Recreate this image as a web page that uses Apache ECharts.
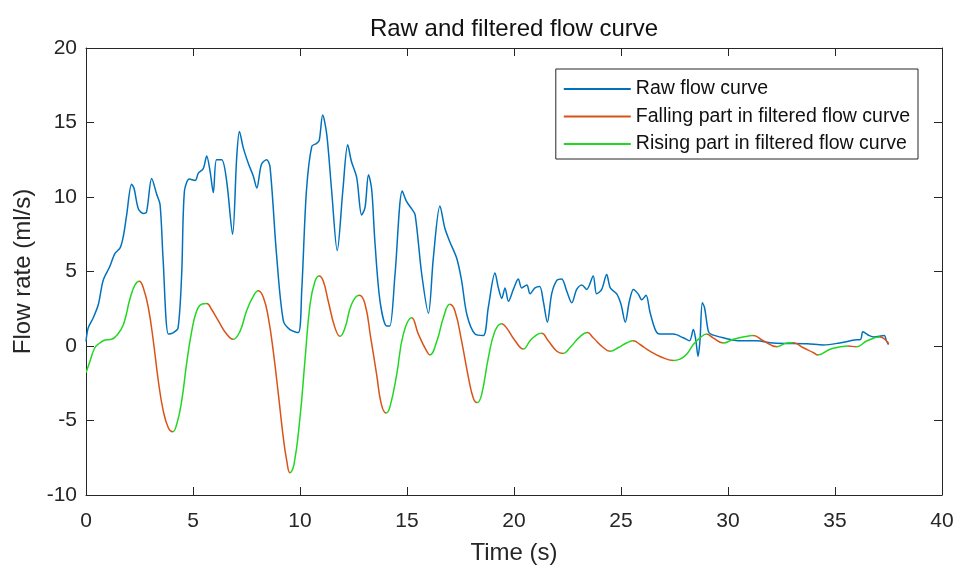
<!DOCTYPE html>
<html>
<head>
<meta charset="utf-8">
<script src="https://cdn.jsdelivr.net/npm/echarts@6/dist/echarts.min.js"></script>
<style>html,body{margin:0;padding:0;background:#fff}#chart{width:957px;height:565px}</style>
</head>
<body>
<div id="chart"></div>
<script>
// ---- Data ----
const titleText = 'Raw and filtered flow curve';
const xName = 'Time (s)';
const yName = 'Flow rate (ml/s)';
const seriesNames = ['Raw flow curve', 'Falling part in filtered flow curve', 'Rising part in filtered flow curve'];

const rawT = [0,0.1,0.34,0.58,0.8,1.1,1.35,1.6,1.75,1.9,2.13,2.24,2.45,2.68,2.83,3.07,3.3,3.46,3.6,3.85,4.08,4.3,4.47,4.6,4.83,5.1,5.25,5.48,5.64,5.8,5.95,6.1,6.34,6.57,6.85,7.04,7.17,7.35,7.6,7.82,7.98,8.2,8.44,8.6,8.9,9.22,9.53,9.92,10.08,10.3,10.55,10.78,10.9,11.06,11.25,11.48,11.74,12.0,12.23,12.4,12.65,12.88,13.04,13.2,13.35,13.5,13.74,14.05,14.2,14.44,14.78,14.98,15.22,15.38,15.69,16.0,16.23,16.54,16.77,17.0,17.32,17.55,17.8,18.18,18.57,18.8,19.11,19.27,19.43,19.58,19.74,19.97,20.2,20.36,20.6,20.75,20.98,21.2,21.37,21.56,21.76,22.0,22.23,22.46,22.7,22.93,23.17,23.4,23.7,23.86,24.1,24.33,24.5,24.8,25.0,25.2,25.39,25.58,25.8,25.97,26.17,26.35,26.6,26.8,27.45,27.91,28.2,28.38,28.5,28.6,28.69,28.8,28.9,29.08,29.2,29.78,30.56,31.33,32.1,33.7,34.46,35.2,35.9,36.2,36.3,36.6,36.8,37.3,37.4,37.5];
const rawV = [0.3,1.2,1.9,2.8,4.4,5.3,6.2,6.6,7.4,8.8,10.85,10.6,9.2,8.9,9.0,11.25,10.2,9.5,5.9,0.8,0.9,1.2,4.8,10.4,11.2,11.1,11.6,11.9,12.75,11.7,10.3,12.5,12.5,11.1,7.5,12.6,14.4,13.3,12.2,11.4,10.6,12.2,12.5,12.0,6.2,1.7,1.1,0.9,3.7,10.4,13.4,13.6,13.8,15.5,14.2,10.4,6.4,10.4,13.5,12.4,11.3,8.8,9.3,11.5,10.5,7.0,3.0,1.35,1.35,4.8,10.4,9.7,9.2,8.8,4.8,2.2,5.9,9.4,7.9,7.0,5.9,4.4,2.1,0.8,0.7,2.6,4.9,3.9,3.2,3.9,3.0,3.8,4.5,3.9,4.1,3.5,3.9,4.0,3.0,1.6,3.5,4.4,4.5,3.7,2.9,3.8,4.1,3.8,4.7,3.5,3.8,4.8,3.9,3.5,2.8,1.6,3.0,3.8,3.5,3.1,3.4,2.3,1.1,0.8,0.8,0.55,0.35,1.1,0.35,-0.7,0.35,2.9,2.6,1.0,0.8,0.55,0.35,0.35,0.2,0.15,0.07,0.2,0.4,0.45,0.95,0.7,0.6,0.7,0.35,0.1];

const filtT = [0,0.19,0.42,0.65,0.89,1.2,1.43,1.75,2.06,2.29,2.49,2.68,2.91,3.15,3.38,3.61,3.85,4.05,4.24,4.47,4.7,4.94,5.17,5.4,5.64,5.87,6.18,6.57,6.88,7.2,7.5,7.82,8.05,8.29,8.52,8.75,8.99,9.22,9.38,9.53,9.72,10.0,10.23,10.47,10.7,10.9,11.09,11.32,11.64,11.87,12.1,12.41,12.77,13.04,13.3,13.58,13.8,14.02,14.2,14.52,14.83,15.22,15.53,15.92,16.07,16.4,16.7,17.0,17.24,17.55,17.87,18.1,18.29,18.49,18.8,19.11,19.42,19.66,20.05,20.44,20.75,21.06,21.29,21.6,22.0,22.3,22.62,23.1,23.43,23.7,24.17,24.49,24.88,25.26,25.57,25.89,26.35,26.82,27.45,27.76,28.07,28.38,28.69,29.0,29.3,29.78,30.25,30.7,31.18,31.65,32.28,32.75,33.06,33.5,34.0,34.2,34.8,35.6,36.0,36.5,37.1,37.4,37.54];
const filtV = [-1.8,-1.0,-0.1,0.2,0.4,0.45,0.7,1.45,3.2,4.1,4.35,3.9,2.6,0.3,-2.35,-4.35,-5.5,-5.75,-5.25,-3.7,-1.2,1.0,2.35,2.8,2.85,2.45,1.7,0.8,0.45,1.0,2.35,3.35,3.7,3.25,1.9,-0.35,-3.25,-6.15,-7.7,-8.5,-7.95,-4.8,-1.0,2.8,4.35,4.7,4.35,3.0,1.2,0.65,1.2,2.8,3.4,2.8,0.6,-1.9,-3.9,-4.5,-4.1,-1.9,0.8,1.9,0.8,-0.35,-0.6,0.35,1.9,2.8,2.35,0.35,-2.1,-3.5,-3.8,-3.25,-0.8,1.0,1.5,1.2,0.35,-0.2,0.35,0.75,0.85,0.35,-0.35,-0.5,-0.1,0.65,0.9,0.55,-0.1,-0.35,-0.1,0.2,0.35,0.1,-0.35,-0.7,-0.97,-0.88,-0.55,0.1,0.55,0.8,0.55,0.2,0.45,0.6,0.7,0.35,-0.05,0.2,0.22,-0.1,-0.45,-0.6,-0.2,0.0,-0.05,0.35,0.6,0.35,0.1];

const xTicks = {min: 0, max: 40, interval: 5};
const yTicks = {min: -10, max: 20, interval: 5};

// ---- Build chart ----
const C_RAW = '#0072BD', C_FALL = '#D95319', C_RISE = '#22d622';
const INK = '#262626';
const FONT = 'Liberation Sans, Arial, Helvetica, sans-serif';

const zip = (a, b) => a.map((x, i) => [x, b[i]]);
const rawData = zip(rawT, rawV);
const filtData = zip(filtT, filtV);

// split the filtered curve into monotone stretches (rising / falling)
function stretches(t, v) {
  const out = [];
  let start = 0, dir = Math.sign(v[1] - v[0]);
  for (let i = 1; i < v.length - 1; i++) {
    const d = Math.sign(v[i + 1] - v[i]);
    if (d !== 0 && d !== dir) { out.push({from: t[start], to: t[i], dir}); start = i; dir = d; }
  }
  out.push({from: t[start], to: t[t.length - 1], dir});
  return out;
}
const parts = stretches(filtT, filtV);
const fallPieces = parts.filter(p => p.dir < 0).map(p => ({gte: p.from, lte: p.to, color: C_FALL}));
const risePieces = parts.filter(p => p.dir > 0).map(p => ({gte: p.from, lte: p.to, color: C_RISE}));

const chart = echarts.init(document.getElementById('chart'), null, {renderer: 'canvas'});

const baseX = {
  type: 'value', min: xTicks.min, max: xTicks.max, interval: xTicks.interval,
  splitLine: {show: false},
  axisLine: {show: true, onZero: false, lineStyle: {color: INK, width: 1}},
  axisTick: {show: true, inside: true, length: 8, lineStyle: {color: INK}}
};
const baseY = {
  type: 'value', min: yTicks.min, max: yTicks.max, interval: yTicks.interval,
  splitLine: {show: false},
  axisLine: {show: true, onZero: false, lineStyle: {color: INK, width: 1}},
  axisTick: {show: true, inside: true, length: 8, lineStyle: {color: INK}}
};

chart.setOption({
  animation: false,
  backgroundColor: '#fff',
  textStyle: {fontFamily: FONT},
  title: {
    text: titleText, left: 514, textAlign: 'center', top: 17, padding: 0,
    textStyle: {fontSize: 24, fontWeight: 'normal', color: '#111', fontFamily: FONT}
  },
  grid: {left: 86, right: 15, top: 48, bottom: 70, containLabel: false, outerBoundsMode: 'none'},
  legend: {
    orient: 'vertical', right: 39, top: 69,
    padding: [10, 8, 5, 7], itemWidth: 67, itemHeight: 20, itemGap: 7.5,
    borderColor: INK, borderWidth: 1, backgroundColor: '#fff',
    textStyle: {fontSize: 19.5, lineHeight: 20, color: '#111', fontFamily: FONT},
    itemStyle: {opacity: 0},
    data: seriesNames.map(n => ({name: n}))
  },
  xAxis: [
    Object.assign({}, baseX, {
      position: 'bottom',
      name: xName, nameLocation: 'middle', nameGap: 46,
      nameTextStyle: {fontSize: 24, color: INK, fontFamily: FONT},
      axisLabel: {fontSize: 21, color: INK, margin: 16, fontFamily: FONT}
    }),
    Object.assign({}, baseX, {position: 'top', axisLabel: {show: false}})
  ],
  yAxis: [
    Object.assign({}, baseY, {
      position: 'left',
      name: yName, nameLocation: 'middle', nameGap: 44, nameRotate: 90,
      nameTextStyle: {fontSize: 24, color: INK, fontFamily: FONT},
      axisLabel: {fontSize: 21, color: INK, margin: 9, fontFamily: FONT}
    }),
    Object.assign({}, baseY, {position: 'right', axisLabel: {show: false}})
  ],
  visualMap: [
    {type: 'piecewise', show: false, seriesIndex: 1, dimension: 0, pieces: fallPieces, outOfRange: {color: 'rgba(0,0,0,0)'}},
    {type: 'piecewise', show: false, seriesIndex: 2, dimension: 0, pieces: risePieces, outOfRange: {color: 'rgba(0,0,0,0)'}}
  ],
  series: [
    {name: seriesNames[0], type: 'line', xAxisIndex: 0, yAxisIndex: 0, data: rawData, showSymbol: false, symbol: 'none', smooth: 0.3,
     color: C_RAW, lineStyle: {color: C_RAW, width: 1.5}},
    {name: seriesNames[1], type: 'line', xAxisIndex: 0, yAxisIndex: 0, data: filtData, showSymbol: false, symbol: 'none', smooth: 0.45,
     color: C_FALL, lineStyle: {width: 1.5}},
    {name: seriesNames[2], type: 'line', xAxisIndex: 0, yAxisIndex: 0, data: filtData, showSymbol: false, symbol: 'none', smooth: 0.45,
     color: C_RISE, lineStyle: {width: 1.5}}
  ]
});
</script>
</body>
</html>
